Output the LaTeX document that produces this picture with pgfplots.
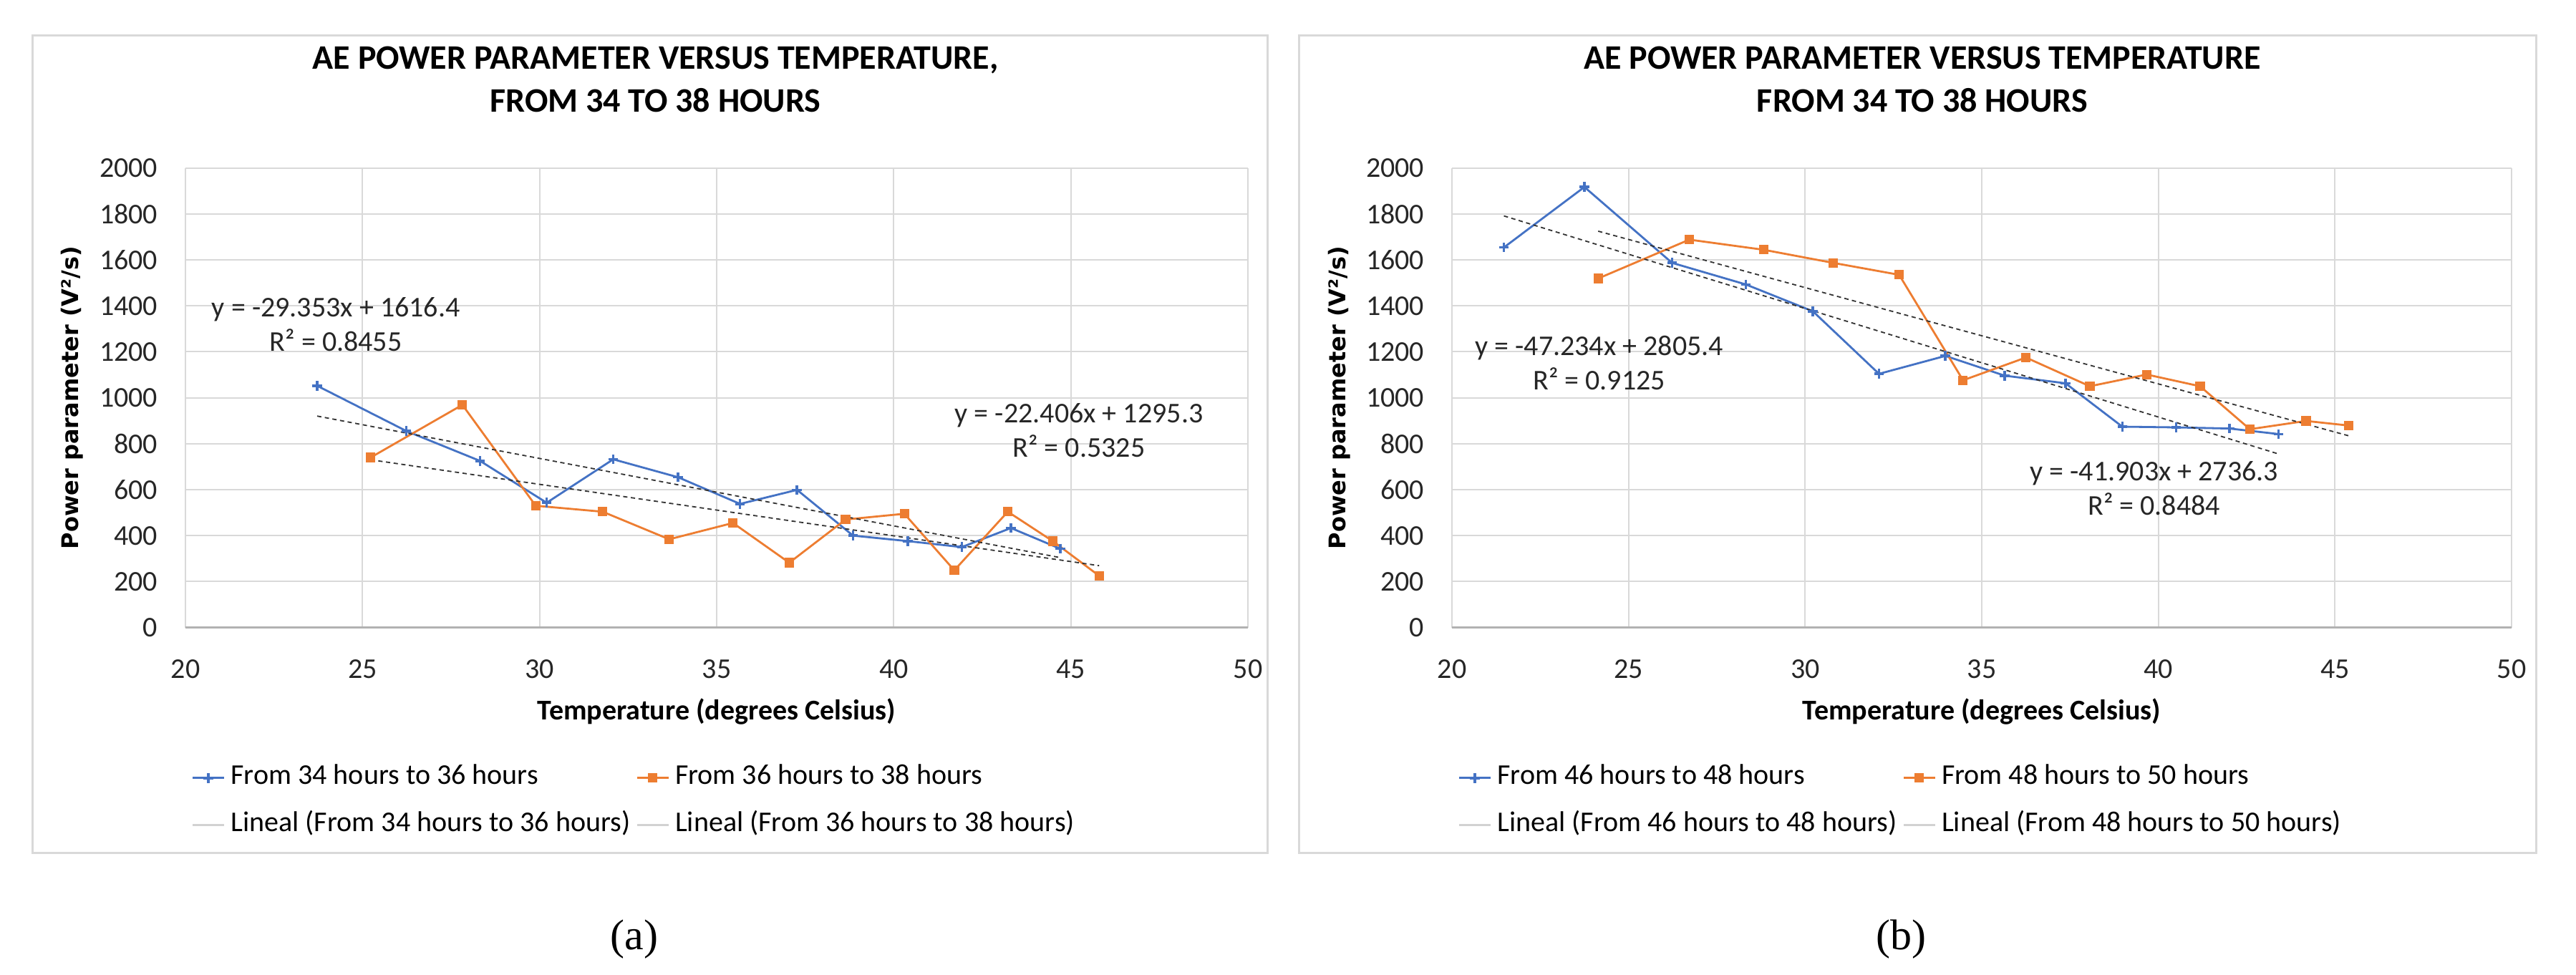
\documentclass[border=0pt]{standalone}
\usepackage{fontspec}
\setmainfont{Carlito}
\newfontfamily\ylabfont{DejaVu Sans}
\newfontfamily\capfont{Liberation Serif}
\usepackage{pgfplots}
\pgfplotsset{compat=1.18}

\definecolor{xlblue}{HTML}{4472C4}
\definecolor{xlorange}{HTML}{ED7D31}
\definecolor{gridgray}{HTML}{D9D9D9}

\tikzset{eqlabel/.style={font=\fontsize{10}{12}\selectfont, align=center, text=black!85}}

\pgfplotsset{
  aepanel/.style={
    scale only axis, height=160.5pt,
    xmin=20, xmax=50, ymin=0, ymax=2000,
    xtick={20,25,...,50}, ytick={0,200,...,2000},
    grid=major, major grid style={gridgray, line width=0.5pt},
    axis x line*=bottom, axis y line*=left,
    x axis line style={draw=gray!60, line width=0.6pt},
    y axis line style={draw=none},
    major tick length=0pt,
    /pgf/number format/assume math mode=true,
    /pgf/number format/1000 sep={},
    tick label style={font=\fontsize{10}{12}\selectfont, inner sep=0pt, text=black!85},
    yticklabel style={anchor=east, xshift=-9.5pt},
    xticklabel style={anchor=north, yshift=-11pt},
    xlabel style={at={(axis description cs:0.5,-0.1835)}, anchor=center,
      font=\bfseries\fontsize{10}{12}\selectfont},
    ylabel style={at={(axis description cs:-0.1065,0.5)}, anchor=center,
      font=\ylabfont\bfseries\fontsize{8}{10}\selectfont},
    title style={anchor=center, align=center,
      font=\bfseries\fontsize{12}{15}\selectfont},
    xlabel={Temperature (degrees Celsius)},
    ylabel={Power parameter (V²/s)},
    legend columns=2,
    legend cell align=left,
    legend style={at={(axis description cs:0.0054,-0.2966)}, anchor=north west,
      draw=none, fill=none, inner sep=0pt, column sep=2pt, row sep=7pt,
      font=\fontsize{10}{12}\selectfont,
      nodes={inner sep=0pt, text height=7pt, text depth=2.5pt}},
    legend image code/.code={\draw[mark repeat=2,mark phase=2,#1]
      plot coordinates {(0pt,0pt) (5.5pt,0pt) (11pt,0pt)};},
    series blue/.style={xlblue, line width=0.7pt, mark=+, mark size=1.7pt,
      mark options={line width=0.9pt}},
    series orange/.style={xlorange, line width=0.7pt, mark=square*, mark size=1.3pt},
    trend/.style={black!80, line width=0.45pt, dash pattern=on 1.5pt off 1.2pt, forget plot},
  }
}

\begin{document}
\begin{tikzpicture}
\path[use as bounding box] (0,0) rectangle (899.5pt,340.25pt);
\draw[gridgray, line width=0.75pt] (11.25pt,42.5pt) rectangle (442.5pt,327.75pt);
\draw[gridgray, line width=0.75pt] (453.5pt,42.5pt) rectangle (885.5pt,327.75pt);

% (a)
\begin{axis}[aepanel, width=371pt, at={(64.75pt,121.1pt)},
  title={AE POWER PARAMETER VERSUS TEMPERATURE,\\FROM 34 TO 38 HOURS},
  title style={at={(axis description cs:0.4424,1.155)}}]
\addplot[series blue] coordinates {
  (23.72,1052) (26.24,855) (28.32,725) (30.20,543) (32.08,732) (33.91,654)
  (35.66,538) (37.27,599) (38.85,400) (40.40,376) (41.92,350) (43.31,433) (44.70,343)};
\addlegendentry{From 34 hours to 36 hours}
\addplot[series orange] coordinates {
  (25.23,740) (27.82,969) (29.89,530) (31.78,504) (33.66,384) (35.46,455)
  (37.05,282) (38.64,470) (40.30,495) (41.71,249) (43.22,504) (44.49,376) (45.80,225)};
\addlegendentry{From 36 hours to 38 hours}
\addplot[trend] coordinates {(23.72,920.2) (44.70,304.3)};
\addplot[trend] coordinates {(25.23,730.0) (45.80,269.1)};
\addlegendimage{draw=gray!35, line width=0.7pt}
\addlegendentry{Lineal (From 34 hours to 36 hours)}
\addlegendimage{draw=gray!35, line width=0.7pt}
\addlegendentry{Lineal (From 36 hours to 38 hours)}
\node[eqlabel] at (axis cs:24.25,1318) {y = -29.353x + 1616.4\\R² = 0.8455};
\node[eqlabel] at (axis cs:45.23,859) {y = -22.406x + 1295.3\\R² = 0.5325};
\end{axis}

% (b)
\begin{axis}[aepanel, width=370pt, at={(507pt,121.1pt)},
  title={AE POWER PARAMETER VERSUS TEMPERATURE\\FROM 34 TO 38 HOURS},
  title style={at={(axis description cs:0.4439,1.155)}}]
\addplot[series blue] coordinates {
  (21.47,1654) (23.75,1917) (26.23,1587) (28.32,1493) (30.22,1376) (32.09,1104)
  (33.97,1182) (35.65,1096) (37.37,1063) (38.98,874) (40.50,871) (42.01,866) (43.40,842)};
\addlegendentry{From 46 hours to 48 hours}
\addplot[series orange] coordinates {
  (24.14,1519) (26.72,1688) (28.82,1644) (30.79,1587) (32.66,1535) (34.47,1076)
  (36.25,1175) (38.06,1050) (39.67,1101) (41.18,1050) (42.59,863) (44.18,899) (45.39,879)};
\addlegendentry{From 48 hours to 50 hours}
\addplot[trend] coordinates {(21.47,1791.3) (43.40,755.4)};
\addplot[trend] coordinates {(24.14,1724.8) (45.39,834.3)};
\addlegendimage{draw=gray!35, line width=0.7pt}
\addlegendentry{Lineal (From 46 hours to 48 hours)}
\addlegendimage{draw=gray!35, line width=0.7pt}
\addlegendentry{Lineal (From 48 hours to 50 hours)}
\node[eqlabel] at (axis cs:24.17,1151) {y = -47.234x + 2805.4\\R² = 0.9125};
\node[eqlabel] at (axis cs:39.88,607) {y = -41.903x + 2736.3\\R² = 0.8484};
\end{axis}

\node[font=\capfont\fontsize{15}{18}\selectfont] at (221.5pt,12.25pt) {(a)};
\node[font=\capfont\fontsize{15}{18}\selectfont] at (663.75pt,12.25pt) {(b)};
\end{tikzpicture}
\end{document}
